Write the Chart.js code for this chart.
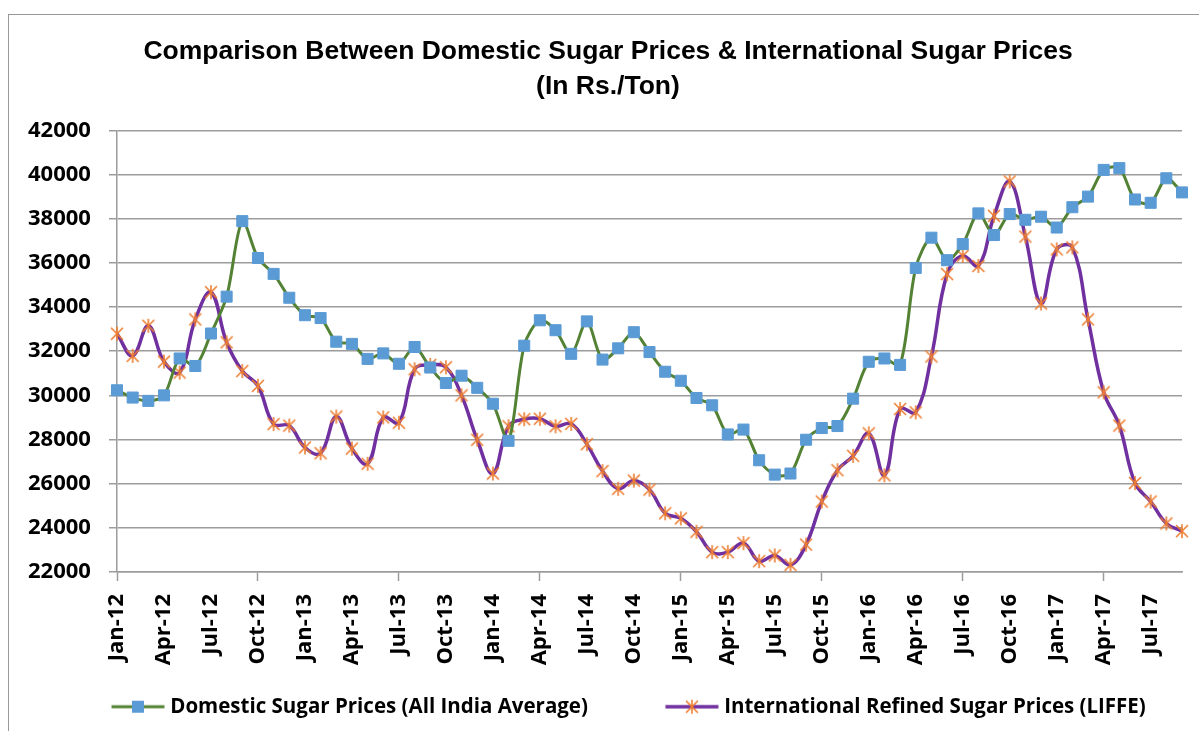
<!DOCTYPE html>
<html lang="en">
<head>
    <meta charset="UTF-8">
    <title>Domestic vs International Sugar Prices</title>
    <script src="https://cdnjs.cloudflare.com/ajax/libs/Chart.js/4.4.1/chart.umd.min.js"></script>
    <style>
        body {
            margin: 0;
            background: #fff;
        }
        #frame {
            position: absolute;
            left: 8px;
            top: 14px;
            width: 1300px;
            height: 800px;
            border-left: 1px solid #999;
            border-top: 1px solid #999;
        }
        #chartCanvas {
            position: absolute;
            left: 0;
            top: 0;
        }
    </style>
</head>
<body>
    <div id="frame"></div>
    <canvas id="chartCanvas" width="1199" height="731"></canvas>

    <script>
        // months Jan-12 .. Sep-17
        const months = [
            'Jan-12', 'Feb-12', 'Mar-12', 'Apr-12', 'May-12', 'Jun-12', 'Jul-12', 'Aug-12', 'Sep-12', 'Oct-12', 'Nov-12', 'Dec-12',
            'Jan-13', 'Feb-13', 'Mar-13', 'Apr-13', 'May-13', 'Jun-13', 'Jul-13', 'Aug-13', 'Sep-13', 'Oct-13', 'Nov-13', 'Dec-13',
            'Jan-14', 'Feb-14', 'Mar-14', 'Apr-14', 'May-14', 'Jun-14', 'Jul-14', 'Aug-14', 'Sep-14', 'Oct-14', 'Nov-14', 'Dec-14',
            'Jan-15', 'Feb-15', 'Mar-15', 'Apr-15', 'May-15', 'Jun-15', 'Jul-15', 'Aug-15', 'Sep-15', 'Oct-15', 'Nov-15', 'Dec-15',
            'Jan-16', 'Feb-16', 'Mar-16', 'Apr-16', 'May-16', 'Jun-16', 'Jul-16', 'Aug-16', 'Sep-16', 'Oct-16', 'Nov-16', 'Dec-16',
            'Jan-17', 'Feb-17', 'Mar-17', 'Apr-17', 'May-17', 'Jun-17', 'Jul-17', 'Aug-17', 'Sep-17'
        ];

        // Rs./Ton
        const domestic = [
            30230, 29900, 29750, 30000, 31670, 31330, 32800, 34470, 37890, 36220, 35500, 34420,
            33630, 33500, 32430, 32330, 31650, 31900, 31430, 32190, 31260, 30560, 30890, 30340,
            29620, 27940, 32250, 33400, 32950, 31880, 33350, 31620, 32130, 32860, 31960, 31070,
            30660, 29880, 29550, 28230, 28450, 27060, 26410, 26460, 27990, 28520, 28610, 29850,
            31520, 31670, 31380, 35770, 37140, 36120, 36850, 38240, 37260, 38210, 37950, 38090,
            37600, 38520, 39000, 40210, 40290, 38870, 38720, 39830, 39190
        ];
        const international = [
            32790, 31790, 33150, 31530, 31030, 33440, 34670, 32400, 31100, 30430, 28700, 28630,
            27640, 27380, 29040, 27590, 26900, 29000, 28760, 31180, 31380, 31270, 30000, 27990,
            26460, 28600, 28920, 28940, 28600, 28710, 27790, 26570, 25770, 26140, 25730, 24660,
            24430, 23820, 22900, 22900, 23310, 22490, 22750, 22320, 23240, 25190, 26610, 27260,
            28280, 26380, 29380, 29230, 31760, 35490, 36320, 35860, 38130, 39690, 37190, 34160,
            36610, 36700, 33440, 30140, 28630, 26030, 25190, 24200, 23850
        ];

        const seriesNames = ['Domestic Sugar Prices (All India Average)', 'International Refined Sugar Prices (LIFFE)'];
        const yTicks = { min: 22000, max: 42000, step: 2000 };

        const green = '#548235', blue = '#5B9BD5', purple = '#7030A0', orange = '#ED7D31';

        // excel-like star marker (x + vertical bar)
        function starMarker(size) {
            const c = document.createElement('canvas');
            c.width = size; c.height = size;
            const g = c.getContext('2d');
            const h = size / 2, r = size / 2 - 1;
            g.strokeStyle = orange;
            g.lineWidth = 1.6;
            g.beginPath();
            g.moveTo(h - r * 0.85, h - r * 0.85); g.lineTo(h + r * 0.85, h + r * 0.85);
            g.moveTo(h + r * 0.85, h - r * 0.85); g.lineTo(h - r * 0.85, h + r * 0.85);
            g.moveTo(h, h - r); g.lineTo(h, h + r);
            g.stroke();
            return c;
        }

        // legend sample: line with marker in the middle, line sits on the right of the image
        function legendIcon(lineColor, lineW, drawMarker) {
            const c = document.createElement('canvas');
            c.width = 140; c.height = 18;
            const g = c.getContext('2d');
            g.strokeStyle = lineColor;
            g.lineWidth = lineW;
            g.beginPath();
            g.moveTo(81.5, 9); g.lineTo(134.5, 9);
            g.stroke();
            drawMarker(g, 108, 9);
            return c;
        }

        const starImg = starMarker(16);
        const legendIcons = [
            legendIcon(green, 3, (g, x, y) => { g.fillStyle = blue; g.fillRect(x - 6, y - 6, 12, 12); }),
            legendIcon(purple, 3.5, (g, x, y) => { g.drawImage(starImg, x - 8, y - 8); })
        ];

        const ctx = document.getElementById('chartCanvas').getContext('2d');
        new Chart(ctx, {
            type: 'line',
            data: {
                labels: months,
                datasets: [{
                    label: seriesNames[0],
                    data: domestic,
                    borderColor: green,
                    borderWidth: 3,
                    tension: 0.3,
                    pointStyle: 'rect',
                    pointRadius: 7.8,
                    pointBackgroundColor: blue,
                    pointBorderColor: blue,
                    pointBorderWidth: 1,
                    clip: false
                }, {
                    label: seriesNames[1],
                    data: international,
                    borderColor: purple,
                    borderWidth: 3.5,
                    tension: 0.4,
                    pointStyle: starImg,
                    pointRadius: 7,
                    clip: false
                }]
            },
            options: {
                responsive: false,
                animation: false,
                layout: { padding: { left: 34, right: 17, top: 33, bottom: 4 } },
                plugins: {
                    title: {
                        display: true,
                        text: ['Comparison Between Domestic Sugar Prices & International Sugar Prices', '(In Rs./Ton)'],
                        color: '#000',
                        font: { family: "'Liberation Sans', Arial", size: 26.5, weight: 'bold', lineHeight: 1.29 },
                        padding: { top: 2, bottom: 27 }
                    },
                    legend: {
                        position: 'bottom',
                        align: 'start',
                        labels: {
                            color: '#000',
                            font: { family: "'Open Sans'", size: 20.5, weight: 'bold' },
                            padding: 6,
                            usePointStyle: true,
                            pointStyleWidth: 120,
                            generateLabels(chart) {
                                const items = Chart.defaults.plugins.legend.labels.generateLabels(chart);
                                items.forEach((it, i) => { it.pointStyle = legendIcons[i]; });
                                return items;
                            }
                        }
                    },
                    tooltip: { enabled: false }
                },
                scales: {
                    x: {
                        offset: false,
                        border: { color: '#9c9c9c', width: 1.5 },
                        grid: {
                            drawOnChartArea: false,
                            tickLength: 9,
                            tickWidth: 1.5,
                            tickColor: c => (c.index % 3 === 0 ? '#9c9c9c' : 'rgba(0,0,0,0)')
                        },
                        ticks: {
                            autoSkip: false,
                            minRotation: 90,
                            maxRotation: 90,
                            padding: 13,
                            color: '#000',
                            font: { family: "'Open Sans'", size: 22, weight: 'bold' },
                            callback(val, i) { return i % 3 === 0 ? this.getLabelForValue(val) : null; }
                        },
                        afterFit(scale) { scale.height = 118.5; }
                    },
                    y: {
                        min: yTicks.min,
                        max: yTicks.max,
                        border: { color: '#9c9c9c', width: 1.5 },
                        grid: { color: '#9c9c9c', lineWidth: 1.5, tickLength: 8 },
                        ticks: {
                            stepSize: yTicks.step,
                            // mirrored + negative padding: labels sit left of the axis, not clipped to the narrow scale box
                            mirror: true,
                            padding: -89,
                            color: '#000',
                            font: { family: "'Open Sans'", size: 22, weight: 'bold' },
                            callback: v => String(v)
                        },
                        afterFit(scale) { scale.width = 83; }
                    }
                }
            }
        });
    </script>
</body>
</html>
